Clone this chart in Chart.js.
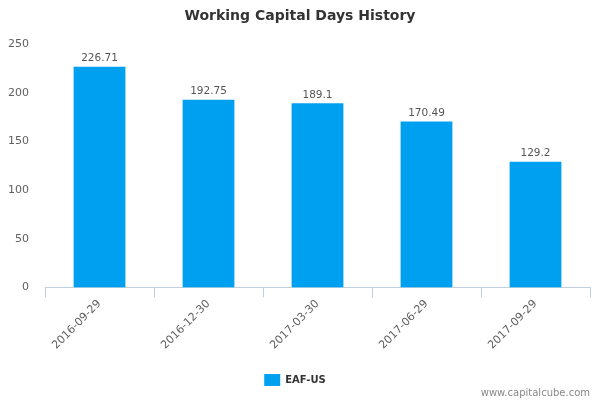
<!DOCTYPE html>
<html>
<head>
<meta charset="utf-8">
<script src="https://cdn.jsdelivr.net/npm/chart.js@4"></script>
<style>
  html, body { margin: 0; padding: 0; background: #fff; }
  #wrap { width: 600px; height: 400px; position: relative; }
</style>
</head>
<body>
<div id="wrap"><canvas id="chart"></canvas></div>
<script>
const categories = ['2016-09-29', '2016-12-30', '2017-03-30', '2017-06-29', '2017-09-29'];
const values = [226.71, 192.75, 189.1, 170.49, 129.2];
const yTicks = [0, 50, 100, 150, 200, 250];
const seriesName = 'EAF-US';
const chartTitle = 'Working Capital Days History';

const fontFamily = '"DejaVu Sans", Verdana, sans-serif';
const axisColor = '#c0d0e0';

// title, value labels above bars, watermark
const labelPlugin = {
    id: 'labels',
    afterDatasetsDraw(chart) {
        const ctx = chart.ctx;
        const meta = chart.getDatasetMeta(0);
        ctx.save();
        ctx.font = 'bold 14px ' + fontFamily;
        ctx.fillStyle = '#333';
        ctx.textAlign = 'center';
        ctx.textBaseline = 'middle';
        ctx.fillText(chartTitle, 300, 16);

        ctx.font = '10.5px ' + fontFamily;
        ctx.fillStyle = '#555';
        ctx.textBaseline = 'bottom';
        meta.data.forEach((bar, i) => {
            ctx.fillText(String(values[i]), bar.x, bar.y - 3);
        });
        ctx.font = '10px ' + fontFamily;
        ctx.fillStyle = '#888';
        ctx.textAlign = 'right';
        ctx.textBaseline = 'alphabetic';
        ctx.fillText('www.capitalcube.com', 590, 396);
        ctx.restore();
    }
};

new Chart(document.getElementById('chart'), {
    type: 'bar',
    data: {
        labels: categories,
        datasets: [{
            label: seriesName,
            data: values,
            backgroundColor: '#00a0f0',
            barPercentage: 0.95,
            categoryPercentage: 0.5
        }]
    },
    options: {
        responsive: true,
        maintainAspectRatio: false,
        animation: false,
        layout: { padding: { left: 0, right: 10, top: 44, bottom: 4 } },
        plugins: {
            title: { display: false },
            legend: {
                position: 'bottom',
                labels: {
                    boxWidth: 16,
                    boxHeight: 12,
                    color: '#333',
                    font: { family: fontFamily, size: 10, weight: 'bold' },
                    padding: 10
                }
            },
            tooltip: { enabled: false }
        },
        scales: {
            x: {
                offset: true,
                grid: {
                    display: true,
                    drawOnChartArea: false,
                    offset: true,
                    tickLength: 10,
                    color: axisColor
                },
                border: { color: axisColor },
                ticks: {
                    color: '#606060',
                    font: { family: fontFamily, size: 11 },
                    maxRotation: 45,
                    minRotation: 45,
                    padding: 0
                },
                afterFit(axis) { axis.height += 12; }
            },
            y: {
                min: 0,
                max: 250,
                afterBuildTicks(axis) {
                    axis.ticks = yTicks.map(v => ({ value: v }));
                },
                afterFit(axis) { axis.width = 45; },
                grid: { display: false },
                border: { display: false },
                ticks: {
                    color: '#606060',
                    font: { family: fontFamily, size: 11 },
                    padding: 8
                }
            }
        }
    },
    plugins: [labelPlugin]
});
</script>
</body>
</html>
